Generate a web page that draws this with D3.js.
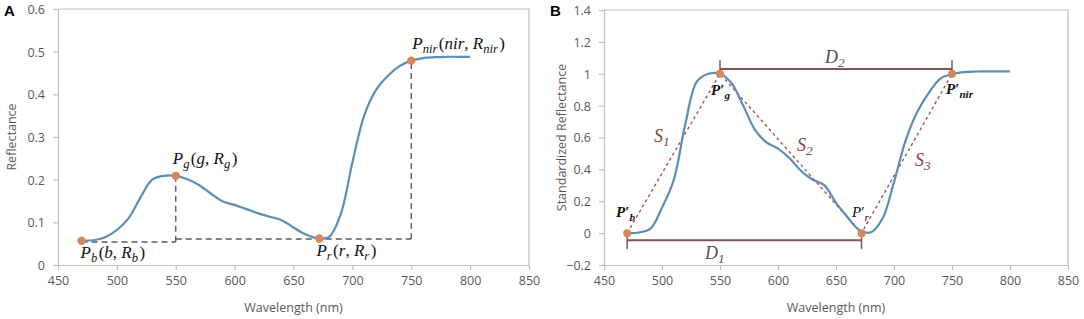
<!DOCTYPE html>
<html>
<head>
<meta charset="utf-8">
<script src="https://cdn.jsdelivr.net/npm/d3@7"></script>
<style>
  body { margin: 0; background: #fff; }
  svg { display: block; }
  .tick text { font-family: "Open Sans", "Noto Sans", sans-serif; font-size: 12.5px; fill: #595959; }
</style>
</head>
<body>
<svg id="chart" width="1084" height="319"></svg>
<script>
// wavelengths (nm) shared by both curves
const wavelength = [470, 480, 490, 500, 510, 520, 530, 540, 550, 560, 570, 580, 590, 600, 610, 620, 630, 640, 650, 660, 670, 680, 690, 700, 710, 720, 730, 740, 750, 760, 770, 780, 790, 800];
// panel A reflectance
const reflectance = [0.057, 0.058, 0.065, 0.082, 0.11, 0.158, 0.2, 0.209, 0.209, 0.201, 0.187, 0.167, 0.149, 0.141, 0.131, 0.121, 0.113, 0.105, 0.088, 0.072, 0.063, 0.065, 0.118, 0.24, 0.35, 0.41, 0.443, 0.466, 0.479, 0.485, 0.487, 0.488, 0.488, 0.488];
// panel B standardized reflectance
const standardized = [0, 0.004, 0.028, 0.16, 0.33, 0.68, 0.95, 1.0, 1.0, 0.94, 0.8, 0.65, 0.57, 0.53, 0.47, 0.39, 0.335, 0.3, 0.19, 0.1, 0.02, 0.005, 0.09, 0.32, 0.58, 0.76, 0.88, 0.97, 0.998, 1.01, 1.014, 1.015, 1.015, 1.015];

// key points Pb, Pg, Pr, Pnir
const keyWl = [470, 550, 672, 750];
const keyA = [0.057, 0.209, 0.062, 0.479];
const keyB = [0, 1, 0, 1];

const xTicks = [450, 500, 550, 600, 650, 700, 750, 800, 850];
const yTicksA = [0, 0.1, 0.2, 0.3, 0.4, 0.5, 0.6];
const yTicksB = [-0.2, 0, 0.2, 0.4, 0.6, 0.8, 1, 1.2, 1.4];

const svg = d3.select("#chart");
const curveColor = "#5b8db5";
const dotColor = "#d9875a";
const gridGray = "#bfbfbf";

function drawFrame(x, y, yTicks, yTitle, panel, yTitleX) {
  const [x0, x1] = x.range();
  const [yb, yt] = y.range();
  // plot area border (top/right)
  svg.append("path")
    .attr("d", `M${x0},${yt}H${x1}V${yb}`)
    .attr("fill", "none").attr("stroke", gridGray).attr("stroke-width", 1.2);

  const ax = svg.append("g")
    .attr("transform", `translate(0,${yb})`)
    .call(d3.axisBottom(x).tickValues(xTicks).tickFormat(d3.format("d")).tickSizeInner(5).tickSizeOuter(0).tickPadding(6));
  const ay = svg.append("g")
    .attr("transform", `translate(${x0},0)`)
    .call(d3.axisLeft(y).tickValues(yTicks).tickFormat(d => d3.format("")(+d.toFixed(1))).tickSizeInner(5).tickSizeOuter(0).tickPadding(8));
  [ax, ay].forEach(a => {
    a.select(".domain").attr("stroke", gridGray).attr("stroke-width", 1.2);
    a.selectAll(".tick line").attr("stroke", gridGray).attr("stroke-width", 1.2);
  });
  ay.selectAll(".tick text").attr("dy", "0.35em");

  svg.append("text")
    .attr("x", (x0 + x1) / 2).attr("y", 312)
    .attr("text-anchor", "middle")
    .attr("font-family", "Open Sans, Noto Sans, sans-serif").attr("font-size", 12.5)
    .attr("fill", "#595959")
    .text("Wavelength (nm)");
  svg.append("text")
    .attr("transform", `translate(${yTitleX},${(yt + yb) / 2}) rotate(-90)`)
    .attr("text-anchor", "middle")
    .attr("font-family", "Open Sans, Noto Sans, sans-serif").attr("font-size", 12.5)
    .attr("fill", "#595959")
    .text(yTitle);
  svg.append("text")
    .attr("x", x0 - 54).attr("y", 16)
    .attr("font-family", "Liberation Sans, Arial, sans-serif").attr("font-size", 15).attr("font-weight", "bold")
    .text(panel);
}

// math-style label: parts = [[text, italic, sub, prime]]
function mathLabel(x, y, parts, opts = {}) {
  const size = opts.size || 17;
  const t = svg.append("text")
    .attr("x", x).attr("y", y)
    .attr("font-family", "Liberation Serif, DejaVu Serif, serif")
    .attr("font-size", size)
    .attr("font-weight", opts.bold ? "bold" : "normal")
    .attr("fill", opts.color || "#111");
  parts.forEach(p => {
    const [txt, ital, sub, prime] = p;
    t.append("tspan").attr("font-style", ital ? "italic" : "normal").text(txt);
    if (prime) t.append("tspan").attr("font-style", "normal").text("\u2032");
    if (sub) {
      t.append("tspan").attr("font-style", "italic").attr("font-size", size * 0.74)
        .attr("dy", 4).text(sub);
      t.append("tspan").attr("dy", -4).text("\u200a");
    }
  });
  return t;
}

// ---------- Panel A ----------
const xA = d3.scaleLinear().domain([450, 850]).range([58, 529]);
const yA = d3.scaleLinear().domain([0, 0.6]).range([265, 9]);
drawFrame(xA, yA, yTicksA, "Reflectance", "A", 16);

// dashed helper lines
const lvlB = 0.054, lvlR = keyA[2] - 0.001;
const dashA = [
  [[keyWl[0], lvlB], [keyWl[1], lvlB]],
  [[keyWl[1], keyA[1]], [keyWl[1], lvlB]],
  [[keyWl[1], lvlR], [keyWl[3], lvlR]],
  [[keyWl[3], lvlR], [keyWl[3], keyA[3]]]
];
const lineA = d3.line().x(d => xA(d[0])).y(d => yA(d[1]));
dashA.forEach(seg => {
  svg.append("path").attr("d", lineA(seg))
    .attr("stroke", "#5d5a66").attr("stroke-width", 1.4).attr("stroke-dasharray", "6,4").attr("fill", "none");
});

svg.append("path")
  .datum(d3.zip(wavelength, reflectance))
  .attr("d", d3.line().x(d => xA(d[0])).y(d => yA(d[1])).curve(d3.curveCatmullRom.alpha(0.5)))
  .attr("fill", "none").attr("stroke", curveColor).attr("stroke-width", 2.2);

svg.selectAll(".dotA").data(d3.zip(keyWl, keyA)).join("circle")
  .attr("cx", d => xA(d[0])).attr("cy", d => yA(d[1])).attr("r", 4.2)
  .attr("fill", dotColor);

mathLabel(xA(keyWl[0]) - 1, yA(keyA[0]) + 17, [["P", true, "b"], ["(", false], ["b", true], [", ", false], ["R", true, "b"], [")", false]]);
mathLabel(xA(keyWl[1]) - 3, yA(keyA[1]) - 12, [["P", true, "g"], ["(", false], ["g", true], [", ", false], ["R", true, "g"], [")", false]]);
mathLabel(xA(keyWl[2]) - 3, yA(keyA[2]) + 17, [["P", true, "r"], ["(", false], ["r", true], [", ", false], ["R", true, "r"], [")", false]]);
mathLabel(xA(keyWl[3]) + 1, yA(keyA[3]) - 12, [["P", true, "nir"], ["(", false], ["nir", true], [", ", false], ["R", true, "nir"], [")", false]]);

// ---------- Panel B ----------
const xB = d3.scaleLinear().domain([450, 850]).range([604, 1068]);
const yB = d3.scaleLinear().domain([-0.2, 1.4]).range([265, 10]);
drawFrame(xB, yB, yTicksB, "Standardized Reflectance", "B", 566);

const lineB = d3.line().x(d => xB(d[0])).y(d => yB(d[1]));

// D1 / D2 distance bars
const dColor = "#7a5656";
const dLevels = [-0.045, 1.03];
[[keyWl[0], keyWl[2], dLevels[0]], [keyWl[1], keyWl[3], dLevels[1]]].forEach(([a, b, lv], i) => {
  svg.append("path").attr("d", lineB([[a, lv], [b, lv]]))
    .attr("stroke", dColor).attr("stroke-width", 2).attr("fill", "none");
  [a, b].forEach(w => {
    const d = i === 0 ? [[w, lv + 0.04], [w, lv - 0.055]] : [[w, lv - 0.02], [w, lv + 0.055]];
    svg.append("path").attr("d", lineB(d)).attr("stroke", dColor).attr("stroke-width", 1.5);
  });
});

// S1..S3 slope lines
svg.append("path")
  .datum(d3.zip(keyWl, keyB))
  .attr("d", lineB)
  .attr("fill", "none").attr("stroke", "#a4524f").attr("stroke-width", 1.4).attr("stroke-dasharray", "3,3");

svg.append("path")
  .datum(d3.zip(wavelength, standardized))
  .attr("d", d3.line().x(d => xB(d[0])).y(d => yB(d[1])).curve(d3.curveCatmullRom.alpha(0.5)))
  .attr("fill", "none").attr("stroke", curveColor).attr("stroke-width", 2.2);

svg.selectAll(".dotB").data(d3.zip(keyWl, keyB)).join("circle")
  .attr("cx", d => xB(d[0])).attr("cy", d => yB(d[1])).attr("r", 4)
  .attr("fill", dotColor);

const sColor = "#8a3b3b";
mathLabel(654, 142, [["S", true, "1"]], { color: sColor, size: 18 });
mathLabel(797, 151, [["S", true, "2"]], { color: sColor, size: 18 });
mathLabel(915, 166, [["S", true, "3"]], { color: sColor, size: 18 });
mathLabel(705, 259, [["D", true, "1"]], { color: "#5e4b4b", size: 18 });
mathLabel(825, 63, [["D", true, "2"]], { color: "#5e4b4b", size: 18 });

mathLabel(616, 217, [["P", true, "b", true]], { bold: true, size: 15 });
mathLabel(711, 95, [["P", true, "g", true]], { bold: true, size: 15 });
mathLabel(852, 217, [["P", true, "r", true]], { size: 15 });
mathLabel(946, 94, [["P", true, "nir", true]], { bold: true, size: 15 });
</script>
</body>
</html>
